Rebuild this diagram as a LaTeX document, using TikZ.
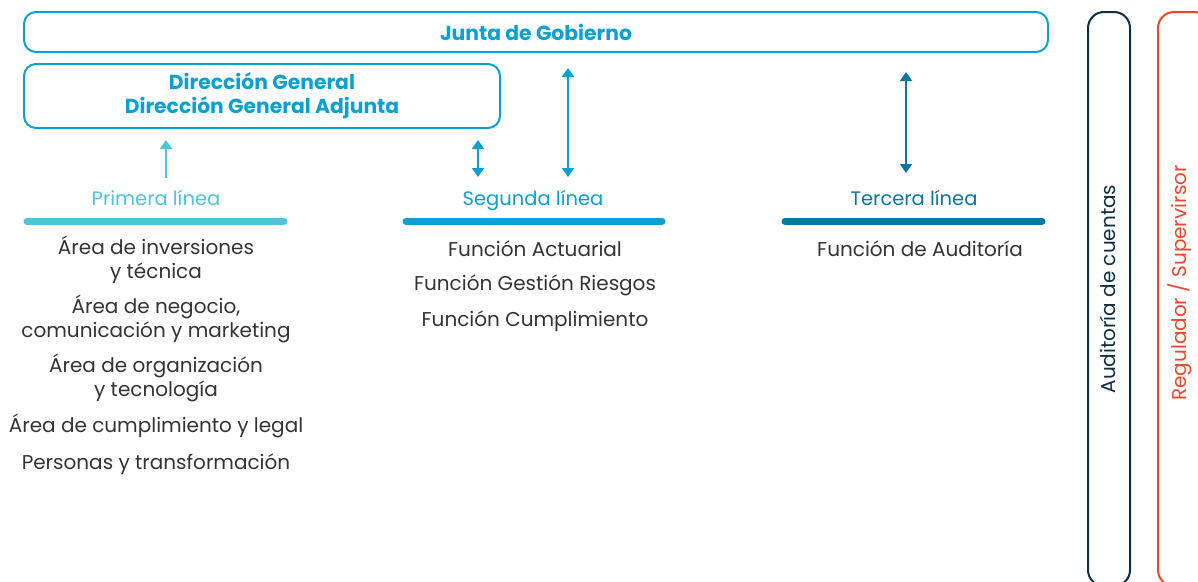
\documentclass[tikz,border=0pt]{standalone}
\usepackage{fontspec}
\setmainfont{Poppins}
\usetikzlibrary{arrows.meta}
\definecolor{junta}{HTML}{0AA0D2}
\definecolor{linea1}{HTML}{4EC3DC}
\definecolor{linea2}{HTML}{0AA0D2}
\definecolor{linea3}{HTML}{0A76A6}
\definecolor{audit}{HTML}{0E2E42}
\definecolor{regul}{HTML}{EF462B}
\definecolor{texto}{HTML}{333333}
\tikzset{
  govbox/.style={draw=junta, line width=2pt, rounded corners=12pt, text=junta, font=\bfseries\fontsize{20.3}{24}\selectfont, align=center},
  item/.style={text=texto, font=\fontsize{20}{24}\selectfont, align=center},
  lbl/.style={font=\fontsize{19.5}{20}\selectfont, anchor=base},
  bar/.style={line width=7pt, line cap=round},
  flecha/.style={line width=2pt, -{Triangle[width=12pt,length=9pt]}},
  dflecha/.style={line width=2pt, {Triangle[width=12pt,length=9pt]}-{Triangle[width=12pt,length=9pt]}},
  sidebox/.style={line width=2pt, rounded corners=16pt}
}
\begin{document}
\begin{tikzpicture}[x=1pt, y=-1pt]
\useasboundingbox (0,0) rectangle (1198,581);
\clip (0,0) rectangle (1198,581);

\node[govbox, minimum width=1024pt, minimum height=40pt] (junta) at (536, 32) {Junta de Gobierno};
\node[govbox, minimum width=476pt, minimum height=64pt] (direccion) at (262, 96) {Dirección General\\Dirección General Adjunta};

\node[lbl, text=linea1] (primera) at (156, 205) {Primera línea};
\node[lbl, text=linea2] (segunda) at (533, 205) {Segunda línea};
\node[lbl, text=linea3] (tercera) at (914, 205) {Tercera línea};

\coordinate (b1s) at (27, 221); \coordinate (b1e) at (284, 221);
\coordinate (b2s) at (406, 221); \coordinate (b2e) at (662, 221);
\coordinate (b3s) at (785, 221); \coordinate (b3e) at (1042, 221);
\draw[bar, linea1] (b1s) -- (b1e);
\draw[bar, linea2] (b2s) -- (b2e);
\draw[bar, linea3] (b3s) -- (b3e);

\coordinate (f1a) at (166, 178); \coordinate (f1b) at (166, 140);
\coordinate (f2a) at (478, 177); \coordinate (f2b) at (478, 140);
\coordinate (f3a) at (568, 177); \coordinate (f3b) at (568, 68);
\coordinate (f4a) at (906, 173); \coordinate (f4b) at (906, 72);
\draw[flecha, linea1] (f1a) -- (f1b);
\draw[dflecha, linea2] (f2a) -- (f2b);
\draw[dflecha, linea2] (f3a) -- (f3b);
\draw[dflecha, linea3] (f4a) -- (f4b);

\node[item] (inversiones) at (156, 260) {Área de inversiones\\y técnica};
\node[item] (negocio) at (156, 319) {Área de negocio,\\comunicación y marketing};
\node[item] (organizacion) at (156, 378) {Área de organización\\y tecnología};
\node[item] (cumplimiento) at (156, 426) {Área de cumplimiento y legal};
\node[item] (personas) at (156, 464) {Personas y transformación};

\node[item] (actuarial) at (535, 249) {Función Actuarial};
\node[item] (riesgos) at (535, 285) {Función Gestión Riesgos};
\node[item] (fcumpl) at (535, 321) {Función Cumplimiento};

\node[item] (auditoria) at (920, 249) {Función de Auditoría};

\draw[sidebox, audit] (1088, 12) rectangle (1130, 586);
\draw[sidebox, regul] (1158, 12) rectangle (1210, 586);
\node[item, text=audit, rotate=90] (cuentas) at (1108, 289) {Auditoría de cuentas};
\node[item, text=regul, rotate=90] (regulador) at (1180, 283) {Regulador / Supervirsor};
\end{tikzpicture}
\end{document}
